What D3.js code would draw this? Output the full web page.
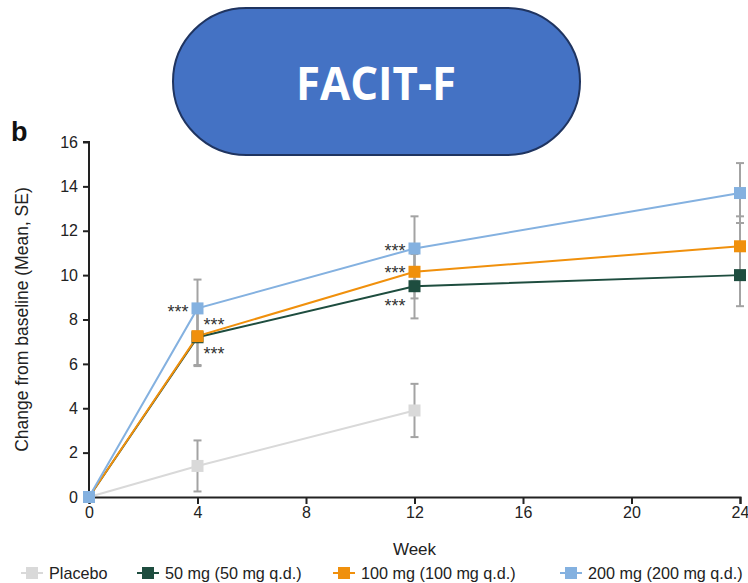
<!DOCTYPE html>
<html><head><meta charset="utf-8">
<script src="https://cdn.jsdelivr.net/npm/d3@7"></script>
<style>
html,body{margin:0;padding:0;background:#fff;}
svg{display:block;font-family:"Liberation Sans",Arial,sans-serif;}
</style></head>
<body>
<svg id="chart" width="748" height="583"></svg>
<script>
// ---- data ----
const weeks = [0, 4, 12, 24];
const seriesNames = ["Placebo", "50 mg (50 mg q.d.)", "100 mg (100 mg q.d.)", "200 mg (200 mg q.d.)"];
const seriesColors = ["#d9d9d9", "#1e4d3f", "#f0900c", "#84b1e0"];
const placeboMean = [0, 1.4, 3.9, null];
const placeboSE   = [0, 1.15, 1.2, null];
const mg50Mean  = [0, 7.2, 9.5, 10.0];
const mg50SE    = [0, 1.3, 1.45, 1.4];
const mg100Mean = [0, 7.25, 10.15, 11.3];
const mg100SE   = [0, 1.3, 1.2, 1.35];
const mg200Mean = [0, 8.5, 11.2, 13.7];
const mg200SE   = [0, 1.3, 1.45, 1.35];
const xTicks = [0, 4, 8, 12, 16, 20, 24];
const yTicks = [0, 2, 4, 6, 8, 10, 12, 14, 16];
// significance marks: week, value level, side
const sigWeek  = [4, 4, 4, 12, 12, 12];
const sigValue = [8.5, 7.93, 6.62, 11.27, 10.27, 8.79];
const sigSide  = ["left", "right", "right", "left", "left", "left"];
const titleText = "FACIT-F";
const panelLabel = "b";
const xTitle = "Week";
const yTitle = "Change from baseline (Mean, SE)";

const allMeans = [placeboMean, mg50Mean, mg100Mean, mg200Mean];
const allSE = [placeboSE, mg50SE, mg100SE, mg200SE];

const svg = d3.select("#chart");
const x = d3.scaleLinear().domain([0, 24]).range([89, 740]);
const y = d3.scaleLinear().domain([0, 16]).range([497, 142]);

// title pill
svg.append("rect").attr("x", 173).attr("y", 8).attr("width", 407).attr("height", 147)
  .attr("rx", 73.5).attr("ry", 73.5)
  .attr("fill", "#4472c4").attr("stroke", "#1f3460").attr("stroke-width", 2);
svg.append("text").attr("x", 376).attr("y", 100).attr("text-anchor", "middle")
  .attr("font-family", "'Open Sans',sans-serif").attr("font-weight", "bold")
  .attr("font-size", 47).attr("fill", "#fff")
  .attr("textLength", 160).attr("lengthAdjust", "spacingAndGlyphs")
  .text(titleText);

// panel label
svg.append("text").attr("x", 11).attr("y", 141).attr("font-weight", "bold")
  .attr("font-size", 27).attr("fill", "#111").text(panelLabel);

// axes
const yAxis = svg.append("g").attr("transform", `translate(${x(0)},0)`)
  .call(d3.axisLeft(y).tickValues(yTicks).tickSize(6).tickPadding(5));
const xAxis = svg.append("g").attr("transform", `translate(0,${y(0)})`)
  .call(d3.axisBottom(x).tickValues(xTicks).tickSize(7).tickPadding(3));
[yAxis, xAxis].forEach(g => {
  g.select(".domain").attr("stroke", "#222").attr("stroke-width", 2);
  g.selectAll(".tick line").attr("stroke", "#222").attr("stroke-width", 2);
  g.selectAll(".tick text").attr("font-size", 16).attr("fill", "#222")
    .attr("font-family", "'Liberation Sans',Arial,sans-serif");
});
yAxis.select(".domain").attr("d", `M-6,${y(16)}H0V${y(0)}`);

svg.append("text").attr("x", x(12)).attr("y", 555).attr("text-anchor", "middle")
  .attr("font-size", 17).attr("fill", "#222").text(xTitle);
svg.append("text").attr("transform", `translate(28,${(y(0)+y(16))/2}) rotate(-90)`)
  .attr("text-anchor", "middle").attr("font-size", 17.5).attr("fill", "#222").text(yTitle);

// lines
const line = d3.line().defined(d => d.v != null).x(d => x(d.w)).y(d => y(d.v));
allMeans.forEach((m, i) => {
  const pts = weeks.map((w, j) => ({w, v: m[j]}));
  svg.append("path").datum(pts).attr("d", line).attr("fill", "none")
    .attr("stroke", seriesColors[i]).attr("stroke-width", 2);
});

// error bars
allMeans.forEach((m, i) => {
  weeks.forEach((w, j) => {
    if (m[j] == null || j === 0) return;
    const lo = m[j] - allSE[i][j], hi = m[j] + allSE[i][j];
    const g = svg.append("g").attr("stroke", "#a3a3a3").attr("stroke-width", 2);
    g.append("line").attr("x1", x(w)).attr("x2", x(w)).attr("y1", y(lo)).attr("y2", y(hi));
    g.append("line").attr("x1", x(w)-4).attr("x2", x(w)+4).attr("y1", y(lo)).attr("y2", y(lo));
    g.append("line").attr("x1", x(w)-4).attr("x2", x(w)+4).attr("y1", y(hi)).attr("y2", y(hi));
  });
});

// markers
allMeans.forEach((m, i) => {
  weeks.forEach((w, j) => {
    if (m[j] == null) return;
    svg.append("rect").attr("x", x(w)-6).attr("y", y(m[j])-6).attr("width", 12).attr("height", 12)
      .attr("fill", seriesColors[i]);
  });
});

// significance marks
sigWeek.forEach((w, i) => {
  const left = sigSide[i] === "left";
  svg.append("text").attr("x", x(w) + (left ? -9 : 6)).attr("y", y(sigValue[i]) + 10)
    .attr("text-anchor", left ? "end" : "start").attr("font-size", 18)
    .attr("fill", "#333").text("***");
});

// legend
const legendX = [32, 148, 344, 571];
seriesNames.forEach((n, i) => {
  const g = svg.append("g").attr("transform", `translate(${legendX[i]},573)`);
  g.append("line").attr("x1", -11).attr("x2", 11).attr("stroke", seriesColors[i]).attr("stroke-width", 2);
  g.append("rect").attr("x", -6).attr("y", -6).attr("width", 12).attr("height", 12).attr("fill", seriesColors[i]);
  g.append("text").attr("x", 17).attr("y", 6).attr("font-size", 16.2).attr("fill", "#222").text(n);
});
</script>
</body></html>
